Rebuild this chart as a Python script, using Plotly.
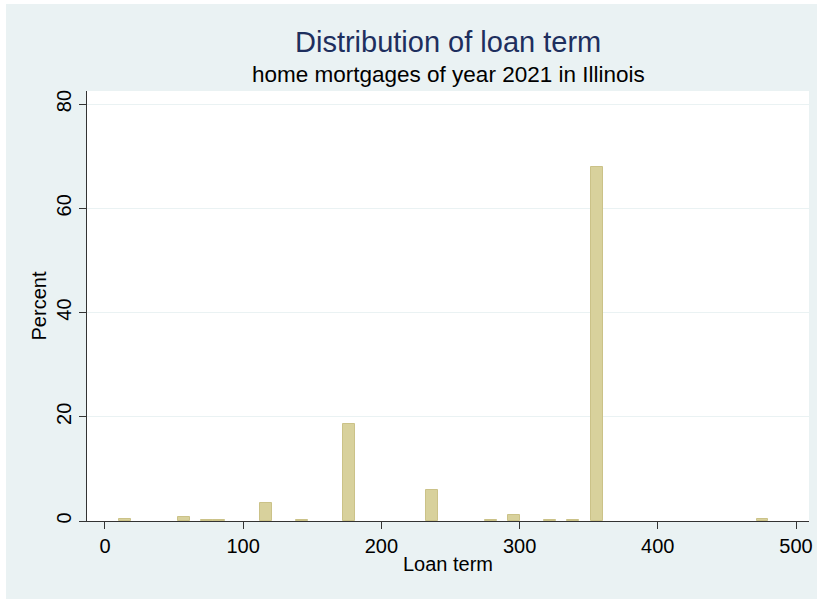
import plotly.graph_objects as go

# Histogram bins of loan term (months): bin midpoints and percent of loans
bin_mid = [14.3, 57.0, 74.1, 82.6, 116.8, 142.5, 176.6, 236.4, 279.1, 296.2, 321.8, 338.9, 356.1, 475.7]
percent = [0.3, 0.8, 0.1, 0.1, 3.4, 0.1, 18.7, 5.95, 0.2, 1.15, 0.1, 0.1, 68.0, 0.35]
bin_width = 8.55

x_ticks = [0, 100, 200, 300, 400, 500]
y_ticks = [0, 20, 40, 60, 80]

BG = "#EAF2F3"
FONT = "Liberation Sans, Arial, sans-serif"

fig = go.Figure()
fig.add_trace(go.Bar(
    x=bin_mid, y=percent, width=[bin_width] * len(bin_mid),
    marker=dict(color="#D8D19C", line=dict(color="#CBC288", width=1)),
    hoverinfo="x+y",
))

fig.update_layout(
    width=817, height=599,
    paper_bgcolor=BG, plot_bgcolor="white",
    margin=dict(l=87, r=8, t=91, b=78, autoexpand=False),
    showlegend=False,
    font=dict(family=FONT, color="black"),
    bargap=0,
    xaxis=dict(
        range=[-13.0, 509.4], tickvals=x_ticks, ticks="outside", ticklen=7,
        tickcolor="#333", showgrid=False, zeroline=False,
        showline=True, linecolor="#333", linewidth=1,
        tickfont=dict(size=20, family=FONT),
        title=dict(text="Loan term", font=dict(size=20, family=FONT), standoff=0),
    ),
    yaxis=dict(
        range=[0, 82.5], tickvals=y_ticks, ticks="outside", ticklen=7,
        tickcolor="#333", showgrid=True, gridcolor=BG, gridwidth=1,
        zeroline=False, showline=True, linecolor="#333", linewidth=1,
        tickangle=-90, tickfont=dict(size=20, family=FONT),
        title=dict(text="Percent", font=dict(size=20, family=FONT), standoff=1),
    ),
    annotations=[
        dict(text="Distribution of loan term", xref="paper", yref="paper",
             x=0.5, y=1, yshift=49, xanchor="center", yanchor="middle",
             showarrow=False, font=dict(size=29, color="#1E2F5E", family=FONT)),
        dict(text="home mortgages of year 2021 in Illinois", xref="paper", yref="paper",
             x=0.5, y=1, yshift=17, xanchor="center", yanchor="middle",
             showarrow=False, font=dict(size=22.5, color="black", family=FONT)),
    ],
    shapes=[
        dict(type="rect", xref="paper", yref="paper",
             xsizemode="pixel", xanchor=0, x0=-87, x1=-81,
             ysizemode="pixel", yanchor=0, y0=-78, y1=521,
             line=dict(width=0), fillcolor="white"),
        dict(type="rect", xref="paper", yref="paper",
             xsizemode="pixel", xanchor=0, x0=-87, x1=730,
             ysizemode="pixel", yanchor=1, y0=87, y1=91,
             line=dict(width=0), fillcolor="white"),
    ],
)

fig.write_html("out.html")
